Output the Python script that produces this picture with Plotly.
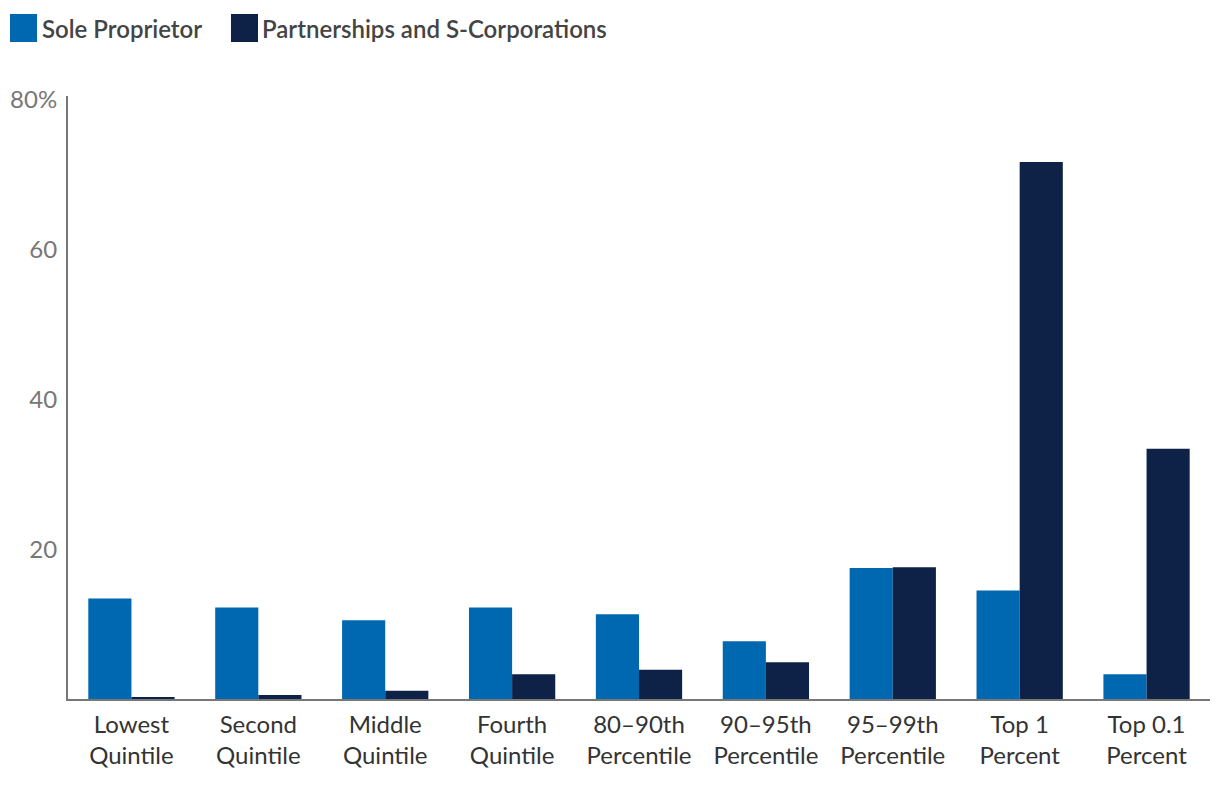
import plotly.graph_objects as go

categories = ["Lowest<br>Quintile", "Second<br>Quintile", "Middle<br>Quintile", "Fourth<br>Quintile",
              "80–90th<br>Percentile", "90–95th<br>Percentile", "95–99th<br>Percentile",
              "Top 1<br>Percent", "Top 0.1<br>Percent"]
sole_proprietor = [13.4, 12.2, 10.5, 12.2, 11.3, 7.7, 17.5, 14.5, 3.3]
partnerships_scorp = [0.2, 0.55, 1.1, 3.3, 3.9, 4.9, 17.6, 71.7, 33.4]
series_names = ["Sole Proprietor", "Partnerships and S-Corporations"]
ytick_vals = [20, 40, 60, 80]
ytick_text = ["20", "40", "60", "80%"]

C_SOLE = "#0068B1"
C_PART = "#0D2246"

# the page body adds an 8px margin; size and positions compensate for it
OFF = 8
W, H = 1220 - OFF, 786 - OFF
ML, MT = 68 - OFF, 96 - OFF
MR = W - (1210 - OFF)
MB = H - (699 - OFF)
PW, PH = W - ML - MR, H - MT - MB


def px(x):
    return (x - OFF - ML) / PW


def py(y):
    return (H - MB - (y - OFF)) / PH


fig = go.Figure()
fig.add_trace(go.Bar(x=categories, y=sole_proprietor, name=series_names[0],
                     marker=dict(color=C_SOLE, line=dict(width=0))))
fig.add_trace(go.Bar(x=categories, y=partnerships_scorp, name=series_names[1],
                     marker=dict(color=C_PART, line=dict(width=0))))

# manual legend (large square swatches)
shapes = []
annotations = []
legend_items = [(10, 40, series_names[0], C_SOLE), (231, 260, series_names[1], C_PART)]
for sx, tx, name, col in legend_items:
    shapes.append(dict(type="rect", xref="paper", yref="paper",
                       x0=px(sx), x1=px(sx + 27), y0=py(42), y1=py(14),
                       fillcolor=col, line=dict(width=0)))
    annotations.append(dict(xref="paper", yref="paper", x=px(tx), y=py(28),
                            text=name, showarrow=False, xanchor="left", yanchor="middle",
                            font=dict(family="Lato", size=24, color="#444444", weight=600)))

fig.update_layout(
    width=W, height=H,
    margin=dict(l=ML, r=MR, t=MT, b=MB, autoexpand=False),
    paper_bgcolor="white", plot_bgcolor="white",
    barmode="group", bargap=0.32, bargroupgap=0,
    showlegend=False,
    shapes=shapes, annotations=annotations,
    font=dict(family="Lato", size=24, color="#333333"),
    xaxis=dict(showline=True, linecolor="#777777", linewidth=2, ticks="",
               tickfont=dict(family="Lato", size=24, color="#333333"),
               showgrid=False, zeroline=False, ticklabelstandoff=3, automargin=False),
    yaxis=dict(range=[0, 80.5], tickvals=ytick_vals, ticktext=ytick_text,
               showline=True, linecolor="#777777", linewidth=2, ticks="",
               tickfont=dict(family="Lato", size=24, color="#777777"),
               showgrid=False, zeroline=False, ticklabelstandoff=4, automargin=False),
)

fig.write_html("out.html")
